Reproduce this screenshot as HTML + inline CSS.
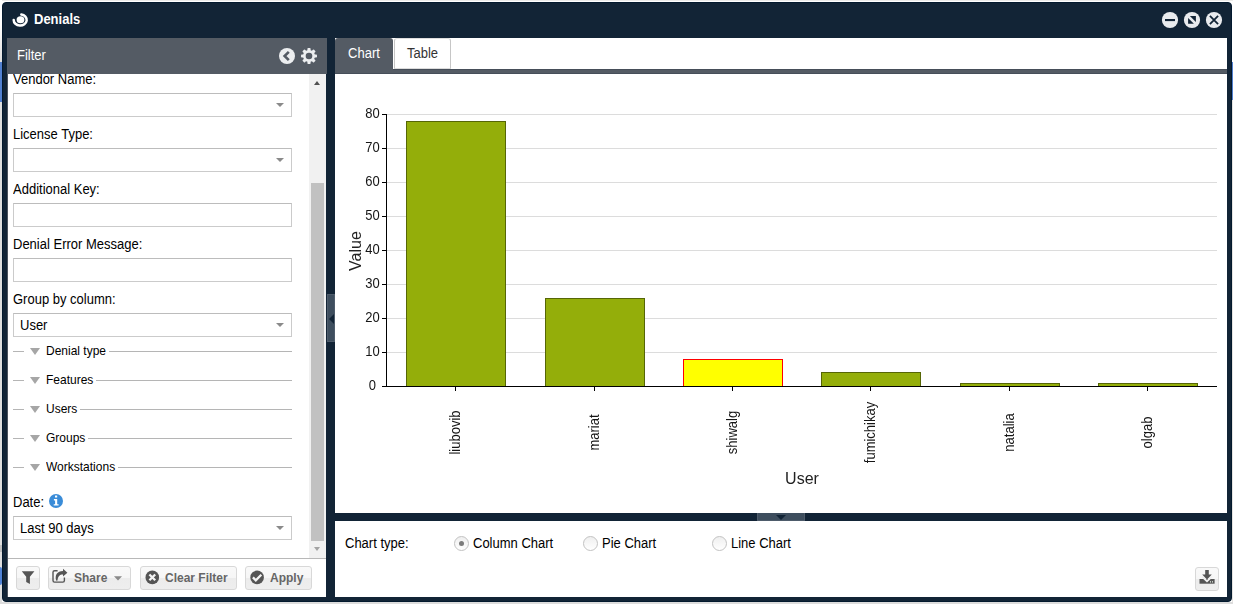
<!DOCTYPE html>
<html>
<head>
<meta charset="utf-8">
<title>Denials</title>
<style>
*{box-sizing:border-box;margin:0;padding:0}
html,body{width:1233px;height:604px;overflow:hidden;background:#fff}
body{font-family:"Liberation Sans",sans-serif;font-size:13px;color:#000;position:relative}
.abs{position:absolute}
.t{display:inline-block;transform:scaleY(1.1)}
#bgbottom{left:0;top:602px;width:1233px;height:2px;background:#dcdcdc}
#bgtop{left:0;top:0;width:1233px;height:1px;background:#ecebe9}
#bgleft0{left:0;top:0;width:2px;height:602px;background:linear-gradient(#fff 0,#fff 24px,#dedede 62px,#dedede 100%)}
#bgleft1{left:0;top:62px;width:2px;height:40px;background:#5180d0}
#bgleft2{left:0;top:545px;width:2px;height:7px;background:#c0c0c0}
#bgleft3{left:0;top:567px;width:2px;height:18px;background:#4f82d6;border-radius:0 2px 2px 0}
#bgright0{left:1232px;top:100px;width:1px;height:502px;background:#e6e4e1}
#bgright1{left:1232px;top:62px;width:1px;height:38px;background:#5180d0}
#win{left:2px;top:2px;width:1230px;height:600px;background:#122436;border:1px solid #03192e;border-radius:4px}
#title{left:34px;top:12px;font-size:13px;font-weight:bold;color:#fff;line-height:16px;transform:scaleY(1.1);transform-origin:0 12.5px}
.phead{background:#545b64;color:#fff}
#fhead{left:7px;top:38px;width:320px;height:36px}
#fhead span{position:absolute;left:10px;top:10px;line-height:16px;font-size:13px;transform:scaleY(1.1);transform-origin:0 12.5px}
#fbody{left:8px;top:74px;width:318px;height:523px;background:#fff;overflow:hidden}
.lbl{position:absolute;left:5px;font-size:13px;line-height:16px;white-space:nowrap;transform:scaleY(1.1);transform-origin:0 12.5px}
.fld{position:absolute;left:5px;width:279px;height:24px;border:1px solid #cbcbcb;border-top-color:#bcbcbc;background:#fff;font-size:13px;line-height:22px;padding-left:6px;padding-top:1px}
.fld i{position:absolute;right:7px;top:9px;width:0;height:0;border-left:4px solid transparent;border-right:4px solid transparent;border-top:4px solid #8a8a8a}
.fs{position:absolute;left:5px;width:279px;height:16px;font-size:12px;line-height:16px}
.fs:before{content:"";position:absolute;left:0;top:8px;width:11px;height:1px;background:#b5b5b5}
.fs b{position:absolute;left:16.5px;top:5px;width:0;height:0;border-left:5.5px solid transparent;border-right:5.5px solid transparent;border-top:7px solid #a6a6a6}
.fs span{position:absolute;left:33px;top:0;white-space:nowrap;font-weight:normal;transform:scaleY(1.1);transform-origin:0 12px}
.fs em{position:absolute;right:0;top:8px;height:1px;background:#b5b5b5}
#sbar{left:301px;top:0;width:17px;height:484px;background:#f1f1f1}
#sthumb{left:2px;top:109px;width:13px;height:358px;background:#c1c1c1}
#ftbar{left:0;top:484px;width:318px;height:39px;border-top:1px solid #b8b8b8;background:#fff}
.btn{position:absolute;top:7px;height:24px;border:1px solid #d8d8d8;border-radius:3px;background:linear-gradient(#f9f9f9 0,#f6f6f6 50%,#ececec 51%,#eeeeee 100%);font-size:12px;font-weight:bold;color:#666;line-height:22px;white-space:nowrap}
#vsplit{left:327px;top:294px;width:8px;height:48px;background:#3e4e5e;border:1px solid #4e5c6b}
#tabbar{left:335px;top:38px;width:892px;height:31px;background:#fff}
#tabstrip{left:335px;top:69px;width:892px;height:5px;background:#545b64;border-top:1px solid #464e59;border-bottom:1px solid #464e59}
#tab1{left:335px;top:38px;width:58px;height:32px;background:#545b64;color:#fff;text-align:center;line-height:31px;border-radius:3px 3px 0 0}
#tab2{left:394px;top:38px;width:57px;height:31px;background:#fff;border:1px solid #c6c6c6;border-top-color:#dedede;border-bottom-color:#dcdcdc;color:#333;text-align:center;line-height:29px;border-radius:3px 3px 0 0}
#chart{left:335px;top:74px;width:892px;height:439px;background:#fff}
#hsplit{left:757px;top:513px;width:48px;height:8px;background:#3e4e5e;border:1px solid #4e5c6b;border-top:none}
#bpanel{left:335px;top:521px;width:892px;height:76px;background:#fff}
.radio{position:absolute;top:15px;width:15px;height:15px;border-radius:50%;border:1px solid #c2c2c2;background:linear-gradient(#efefef,#ffffff)}
.rl{position:absolute;top:15px;line-height:16px;font-size:13px;white-space:nowrap;transform:scaleY(1.1);transform-origin:0 12.5px}
</style>
</head>
<body>
<div class="abs" id="bgbottom"></div>
<div class="abs" id="bgtop"></div>
<div class="abs" id="bgleft0"></div>
<div class="abs" id="bgleft1"></div>
<div class="abs" id="bgleft2"></div>
<div class="abs" id="bgleft3"></div>
<div class="abs" id="bgright0"></div>
<div class="abs" id="bgright1"></div>
<div class="abs" id="win"></div>

<!-- title bar -->
<svg class="abs" style="left:12px;top:12px" width="17" height="16" viewBox="0 0 17 16">
  <ellipse cx="8.5" cy="7.8" rx="3.9" ry="3.5" fill="#fff"/>
  <path d="M1.7 7.9 A6.5 5.6 0 1 0 9.3 2.45" fill="none" stroke="#fff" stroke-width="2.5" stroke-linecap="round"/>
</svg>
<div class="abs" id="title">Denials</div>
<svg class="abs" style="left:1161px;top:11px" width="62" height="18" viewBox="0 0 62 18">
  <circle cx="9" cy="9" r="8.1" fill="#e9ebee"/>
  <rect x="4" y="8" width="10" height="2.1" fill="#122436"/>
  <circle cx="31" cy="9" r="8.1" fill="#e9ebee"/>
  <path d="M28.9 5.1 H34.9 V10.9 Z M27.1 6.9 V12.7 H32.9 Z" fill="#122436"/>
  <circle cx="53" cy="9" r="8.1" fill="#e9ebee"/>
  <path d="M48.9 4.9 L57.1 13.1 M57.1 4.9 L48.9 13.1" stroke="#122436" stroke-width="1.8"/>
</svg>

<!-- filter panel -->
<div class="abs phead" id="fhead"><span>Filter</span></div>
<svg class="abs" style="left:278px;top:47px" width="40" height="18" viewBox="0 0 40 18">
  <circle cx="9" cy="9" r="8" fill="#eceef0"/>
  <path d="M10.8 4.8 L6.6 9 L10.8 13.2" fill="none" stroke="#545b64" stroke-width="2.6"/>
  <g transform="translate(31,9)">
    <g fill="#eceef0">
      <rect x="-1.6" y="-8" width="3.2" height="16" rx="0.8"/>
      <rect x="-1.6" y="-8" width="3.2" height="16" rx="0.8" transform="rotate(45)"/>
      <rect x="-1.6" y="-8" width="3.2" height="16" rx="0.8" transform="rotate(90)"/>
      <rect x="-1.6" y="-8" width="3.2" height="16" rx="0.8" transform="rotate(135)"/>
      <circle r="6"/>
    </g>
    <circle r="3.3" fill="#545b64"/>
  </g>
</svg>
<div class="abs" style="left:7px;top:74px;width:1px;height:523px;background:#4b535e"></div>
<div class="abs" id="fbody">
  <div class="lbl" style="top:-2px">Vendor Name:</div>
  <div class="fld" style="top:19px"><i></i></div>
  <div class="lbl" style="top:53px">License Type:</div>
  <div class="fld" style="top:74px"><i></i></div>
  <div class="lbl" style="top:108px">Additional Key:</div>
  <div class="fld" style="top:129px"></div>
  <div class="lbl" style="top:163px">Denial Error Message:</div>
  <div class="fld" style="top:184px"></div>
  <div class="lbl" style="top:218px">Group by column:</div>
  <div class="fld" style="top:239px"><span class="t" style="transform-origin:0 15.5px">User</span><i></i></div>
  <div class="fs" style="top:269px"><b></b><span>Denial type</span><em style="left:96px"></em></div>
  <div class="fs" style="top:298px"><b></b><span>Features</span><em style="left:83px"></em></div>
  <div class="fs" style="top:327px"><b></b><span>Users</span><em style="left:67px"></em></div>
  <div class="fs" style="top:356px"><b></b><span>Groups</span><em style="left:75px"></em></div>
  <div class="fs" style="top:385px"><b></b><span>Workstations</span><em style="left:105px"></em></div>
  <div class="lbl" style="top:421px">Date:</div>
  <svg class="abs" style="left:41px;top:420px" width="14" height="14" viewBox="0 0 14 14">
    <circle cx="7" cy="7" r="7" fill="#3a8cd8"/>
    <rect x="6" y="1.5" width="2.2" height="2.1" rx="0.3" fill="#fff"/>
    <path d="M4.9 5 H8.2 V10.2 H9.6 V11.6 H4.7 V10.2 H6.1 V6.4 H4.9 Z" fill="#fff"/>
  </svg>
  <div class="fld" style="top:442px"><span class="t" style="transform-origin:0 15.5px">Last 90 days</span><i></i></div>
  <div class="abs" id="sbar">
    <div class="abs" id="sthumb"></div>
    <div class="abs" style="left:5px;top:7px;width:0;height:0;border-left:3.5px solid transparent;border-right:3.5px solid transparent;border-bottom:4px solid #505050"></div>
    <div class="abs" style="left:5px;top:473px;width:0;height:0;border-left:3.5px solid transparent;border-right:3.5px solid transparent;border-top:4px solid #a3a3a3"></div>
  </div>
  <div class="abs" id="ftbar">
    <div class="btn" style="left:8px;width:24px"></div>
    <div class="btn" style="left:40px;width:83px;padding-left:25px"><span class="t" style="transform-origin:0 15px">Share</span></div>
    <div class="btn" style="left:132px;width:97px;padding-left:24px"><span class="t" style="transform-origin:0 15px">Clear Filter</span></div>
    <div class="btn" style="left:237px;width:67px;padding-left:24px"><span class="t" style="transform-origin:0 15px">Apply</span></div>
    <svg class="abs" style="left:0;top:0" width="318" height="37" viewBox="8 559 318 37">
      <path d="M21.8 571.3 H34.4 L29.9 576.7 V584 L26.2 582 V576.7 Z" fill="#555"/>
      <path d="M57.6 570.7 H54.6 Q53 570.7 53 572.3 V580.5 Q53 582.1 54.6 582.1 H62.8 Q64.4 582.1 64.4 580.5 V577.4" stroke="#555" stroke-width="1.4" fill="none"/>
      <path d="M63 568.8 L67.4 572.7 L63 576.6 V574.5 C59.8 574.4 58 576.2 57.5 580.4 L56.3 580.8 C54.4 575.4 57.2 571 63 571 Z" fill="#555"/>
      <path d="M114 576.3 H122 L118 580.5 Z" fill="#8a8a8a"/>
      <circle cx="152.3" cy="577.4" r="6.8" fill="#555"/>
      <path d="M149.4 574.5 L155.2 580.3 M155.2 574.5 L149.4 580.3" stroke="#f4f4f4" stroke-width="2.3"/>
      <circle cx="257.1" cy="577.4" r="6.8" fill="#555"/>
      <path d="M252.9 577.4 L255.8 580.3 L261.3 574.8" stroke="#f4f4f4" stroke-width="2.3" fill="none"/>
    </svg>
  </div>
  </div>
</div>

<!-- splitter -->
<div class="abs" id="vsplit"></div>
<div class="abs" style="left:328.5px;top:313.5px;width:0;height:0;border-top:5px solid transparent;border-bottom:5px solid transparent;border-right:5px solid #122436"></div>

<!-- right panel -->
<div class="abs" id="tabbar"></div>
<div class="abs" id="tabstrip"></div>
<div class="abs" id="tab1"><span class="t" style="transform-origin:0 20px">Chart</span></div>
<div class="abs" id="tab2"><span class="t" style="transform-origin:0 19px">Table</span></div>
<div class="abs" id="chart"></div>
<!--CHART-->
<svg class="abs" style="left:335px;top:73px;will-change:transform" width="892" height="440" viewBox="0 0 892 440" font-family="Liberation Sans, sans-serif">
<path d="M52 41.5H882 M52 75.5H882 M52 109.5H882 M52 143.5H882 M52 177.5H882 M52 211.5H882 M52 245.5H882 M52 279.5H882" stroke="#dcdcdc" stroke-width="1" fill="none"/>
<rect x="71.5" y="48.5" width="99" height="265.0" fill="#94ae0a" stroke="#566606" stroke-width="1"/>
<rect x="210.5" y="225.5" width="99" height="88.0" fill="#94ae0a" stroke="#566606" stroke-width="1"/>
<rect x="348.5" y="286.5" width="99" height="27.0" fill="#ffff00" stroke="#ff0000" stroke-width="1"/>
<rect x="486.5" y="299.5" width="99" height="14.0" fill="#94ae0a" stroke="#566606" stroke-width="1"/>
<rect x="625.5" y="310.5" width="99" height="3.0" fill="#94ae0a" stroke="#566606" stroke-width="1"/>
<rect x="763.5" y="310.5" width="99" height="3.0" fill="#94ae0a" stroke="#566606" stroke-width="1"/>
<path d="M51.5 41V314 M51 313.5H882 M47 41.5H51 M47 75.5H51 M47 109.5H51 M47 143.5H51 M47 177.5H51 M47 211.5H51 M47 245.5H51 M47 279.5H51 M47 313.5H51 M120.5 314V318 M259.5 314V318 M397.5 314V318 M535.5 314V318 M674.5 314V318 M812.5 314V318" stroke="#000" stroke-width="1" fill="none"/>
<text transform="translate(37.4 45.3) scale(1 1.08)" font-size="13" text-anchor="middle" fill="#161616">80</text>
<text transform="translate(37.4 79.3) scale(1 1.08)" font-size="13" text-anchor="middle" fill="#161616">70</text>
<text transform="translate(37.4 113.3) scale(1 1.08)" font-size="13" text-anchor="middle" fill="#161616">60</text>
<text transform="translate(37.4 147.3) scale(1 1.08)" font-size="13" text-anchor="middle" fill="#161616">50</text>
<text transform="translate(37.4 181.3) scale(1 1.08)" font-size="13" text-anchor="middle" fill="#161616">40</text>
<text transform="translate(37.4 215.3) scale(1 1.08)" font-size="13" text-anchor="middle" fill="#161616">30</text>
<text transform="translate(37.4 249.3) scale(1 1.08)" font-size="13" text-anchor="middle" fill="#161616">20</text>
<text transform="translate(37.4 283.3) scale(1 1.08)" font-size="13" text-anchor="middle" fill="#161616">10</text>
<text transform="translate(37.4 317.3) scale(1 1.08)" font-size="13" text-anchor="middle" fill="#161616">0</text>
<text transform="translate(125.0 359.5) rotate(-90) scale(1 1.08)" font-size="13" text-anchor="middle" fill="#161616">liubovib</text>
<text transform="translate(264.0 359.5) rotate(-90) scale(1 1.08)" font-size="13" text-anchor="middle" fill="#161616">mariat</text>
<text transform="translate(402.0 359.5) rotate(-90) scale(1 1.08)" font-size="13" text-anchor="middle" fill="#161616">shiwalg</text>
<text transform="translate(540.0 359.5) rotate(-90) scale(1 1.08)" font-size="13" text-anchor="middle" fill="#161616">fumichikay</text>
<text transform="translate(679.0 359.5) rotate(-90) scale(1 1.08)" font-size="13" text-anchor="middle" fill="#161616">natalia</text>
<text transform="translate(817.0 359.5) rotate(-90) scale(1 1.08)" font-size="13" text-anchor="middle" fill="#161616">olgab</text>
<text transform="translate(26 178.1) rotate(-90)" font-size="16" text-anchor="middle" fill="#222">Value</text>
<text x="467" y="410.8" font-size="16" text-anchor="middle" fill="#222">User</text>
</svg>
<!--/CHART-->
<div class="abs" id="hsplit"></div>
<div class="abs" style="left:776px;top:515px;width:0;height:0;border-left:5px solid transparent;border-right:5px solid transparent;border-top:5px solid #122436"></div>
<div class="abs" id="bpanel">
  <div class="rl" style="left:10px">Chart type:</div>
  <div class="radio" style="left:119px"></div><div class="abs" style="left:124px;top:20px;width:5px;height:5px;border-radius:50%;background:#7c7c7c"></div>
  <div class="rl" style="left:138px">Column Chart</div>
  <div class="radio" style="left:248px"></div>
  <div class="rl" style="left:267px">Pie Chart</div>
  <div class="radio" style="left:377px"></div>
  <div class="rl" style="left:396px">Line Chart</div>
  <div class="btn" style="left:860px;top:46px;width:24px"></div>
  <svg class="abs" style="left:860px;top:46px" width="24" height="24" viewBox="1195 567 24 24">
    <path d="M1199.5 579 H1214.6 V583.7 H1199.5 Z" fill="#555"/>
    <path d="M1203 576 L1207 580 L1211 576 L1212.4 577.4 L1207 582.6 L1201.6 577.4 Z" fill="#f0f0f0"/>
    <path d="M1205.2 570 H1208.8 V574.4 H1211.8 L1207 579.6 L1202.2 574.4 H1205.2 Z" fill="#555"/>
    <rect x="1210" y="581" width="0.9" height="1.6" fill="#cfd8cf"/>
    <rect x="1212.1" y="581" width="0.9" height="1.6" fill="#cfd8cf"/>
  </svg>
</div>
</body>
</html>
